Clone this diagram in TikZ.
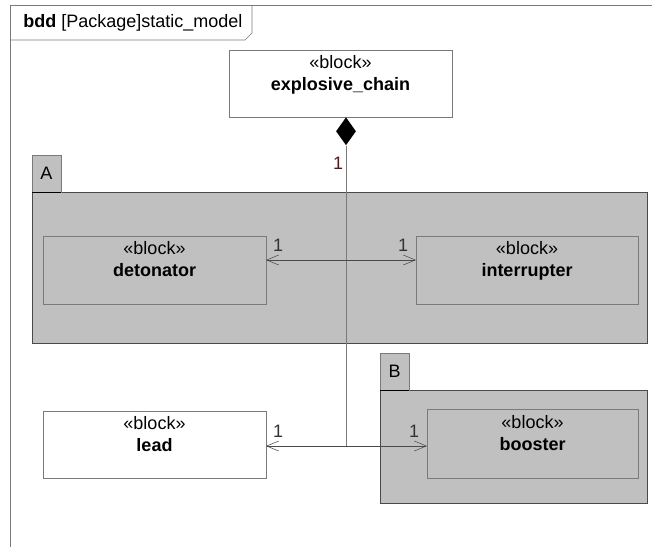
\documentclass[tikz,border=0pt]{standalone}
\usepackage{fontspec}
\setmainfont{Liberation Sans}
\usetikzlibrary{positioning, shapes.geometric, arrows.meta}

\newdimen\pxu
\pxu=0.75pt

\definecolor{pkggray}{HTML}{C0C0C0}
\definecolor{linegray}{HTML}{7A7A7A}
\definecolor{darkline}{HTML}{4A4A4A}
\definecolor{multred}{RGB}{90,20,20}

\tikzset{
  block/.style={draw=linegray, fill=white, inner sep=0pt, outer sep=0pt,
    align=center, minimum width=223\pxu, minimum height=67\pxu},
  inblock/.style={block, fill=pkggray},
  pkgbody/.style={draw=darkline, fill=pkggray, inner sep=0pt, outer sep=0pt},
  pkgtab/.style={draw=linegray, fill=pkggray, inner sep=0pt, outer sep=0pt,
    minimum width=29\pxu, minimum height=37\pxu},
  compos/.style={diamond, fill=black, inner sep=0pt, minimum width=20\pxu, minimum height=28\pxu},
  assoc/.style={draw=darkline, {Straight Barb[length=9pt,width=7.5pt]}-{Straight Barb[length=9pt,width=7.5pt]}},
  mult/.style={inner sep=0pt, text=black!80}
}

\begin{document}
\begin{tikzpicture}[x=\pxu, y=-\pxu, font=\fontsize{13.5pt}{16.5pt}\selectfont]
\useasboundingbox (0,0) rectangle (652,547);

% frame with title tab
\draw[linegray] (652,5) -- (10,5) -- (10,547);
\draw[linegray] (10,40) -- (245,40) -- (252,33) -- (252,5);
\node[anchor=west, inner sep=0pt] (title) at (23,23) {\textbf{bdd} [Package]static\_model};

% packages
\node[pkgbody, minimum width=615\pxu, minimum height=151\pxu] (pkgA) at (339.5,267.5) {};
\node[pkgtab, anchor=south west] (tabA) at (pkgA.north west) {A};
\draw[black] (tabA.south west) -- (tabA.south east);
\node[pkgbody, minimum width=267\pxu, minimum height=113\pxu] (pkgB) at (513.5,446.5) {};
\node[pkgtab, anchor=south west] (tabB) at (pkgB.north west) {B};
\draw[black] (tabB.south west) -- (tabB.south east);

% blocks
\node[block] (chain) at (340.5,83.5) {«block»\\\textbf{explosive\_chain}\\\mbox{}};
\node[inblock, minimum height=68\pxu] (det) at (154.5,270) {«block»\\\textbf{detonator}\\\mbox{}};
\node[inblock, minimum width=222\pxu, minimum height=68\pxu] (intr) at (527,270) {«block»\\\textbf{interrupter}\\\mbox{}};
\node[block] (lead) at (154.5,444.5) {«block»\\\textbf{lead}\\\mbox{}};
\node[inblock, minimum width=211\pxu, minimum height=69\pxu] (boost) at (532.5,443.5) {«block»\\\textbf{booster}\\\mbox{}};

% composition
\node[compos, anchor=north] (dia) at (346,117) {};
\coordinate (jA) at (346,260);
\coordinate (jB) at (346,446);
\draw[linegray] (dia.south) -- (jB);

% associations
\draw[assoc] (det.east |- jA) -- (intr.west |- jA);
\draw[assoc] (lead.east |- jB) -- (boost.west |- jB);

% multiplicities
\node[mult, text=multred] (m0) at (338,163) {1};
\node[mult] (m1) at (278,245) {1};
\node[mult] (m2) at (403,245) {1};
\node[mult] (m3) at (278,431) {1};
\node[mult] (m4) at (414,431) {1};

\end{tikzpicture}
\end{document}
